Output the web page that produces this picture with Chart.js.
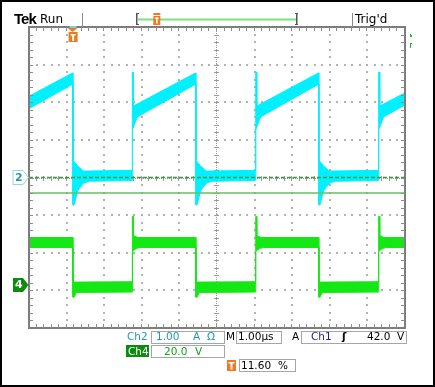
<!DOCTYPE html>
<html><head><meta charset="utf-8">
<script src="https://cdn.jsdelivr.net/npm/chart.js@4.4.0/dist/chart.umd.min.js"></script>
<style>
html,body{margin:0;padding:0;background:#fff;}
#wrap{position:relative;width:435px;height:387px;overflow:hidden;background:#fff;}
#c{position:absolute;left:0;top:0;}
.t{position:absolute;white-space:pre;line-height:1;font-family:"DejaVu Sans",sans-serif;font-size:10.5px;color:#000;}
.top{font-size:12px;}
</style></head><body>
<div id="wrap"><canvas id="c" width="435" height="387"></canvas>
<span class="t" style="left:14px;top:11.3px;font-family:'Liberation Sans',sans-serif;font-weight:bold;font-size:15px;letter-spacing:-1px;">Tek</span>
<span class="t top" style="left:40px;top:13px;">Run</span>
<span class="t top" style="left:355px;top:13px;">Trig'd</span>

<span class="t" style="left:127px;top:331.1px;color:#1f9ea6;">Ch2</span>
<span class="t" style="left:156px;top:331.1px;color:#1f9ea6;">1.00</span>
<span class="t" style="left:193px;top:331.1px;color:#1f9ea6;">A</span>
<span class="t" style="left:207px;top:331.1px;color:#1f9ea6;">Ω</span>
<span class="t" style="left:226px;top:331.1px;">M</span>
<span class="t" style="left:238px;top:331.1px;">1.00µs</span>
<span class="t" style="left:292px;top:331.1px;">A</span>
<span class="t" style="left:311px;top:331.1px;color:#1a1aa8;">Ch1</span>
<span class="t" style="left:342px;top:331.1px;font-weight:bold;">ʃ</span>
<span class="t" style="left:367px;top:331.1px;">42.0</span>
<span class="t" style="left:397px;top:331.1px;">V</span>

<span class="t" style="left:128px;top:345.6px;color:#fff;">Ch4</span>
<span class="t" style="left:164px;top:345.6px;color:#18a018;">20.0</span>
<span class="t" style="left:195px;top:345.6px;color:#18a018;">V</span>

<span class="t" style="left:241px;top:359.6px;">11.60</span>
<span class="t" style="left:278px;top:359.6px;">%</span>
</div>
<script>
// ---- data ----
// time in µs from left edge of screen (1.00 µs/div), current in A (Ch2), voltage in V (Ch4)
const ch2Upper = [[0,2.16],[1.16,2.78],[1.17,0.46],[1.30,0.30],[1.45,0.17],[2.74,0.19],[2.75,2.80],[2.77,2.80],[2.78,1.90],[4.43,2.78],[4.44,0.46],[4.57,0.30],[4.72,0.17],[6.02,0.19],[6.03,2.80],[6.05,2.80],[6.06,1.90],[7.70,2.78],[7.71,0.46],[7.84,0.30],[7.99,0.17],[9.29,0.19],[9.30,2.80],[9.32,2.80],[9.33,1.90],[10,2.25]];
const ch2Lower = [[0,1.83],[1.16,2.48],[1.17,-0.73],[1.20,-0.73],[1.30,-0.34],[1.45,-0.15],[1.60,-0.10],[2.74,-0.08],[2.75,1.26],[2.88,1.61],[4.43,2.48],[4.44,-0.73],[4.47,-0.73],[4.57,-0.34],[4.72,-0.15],[4.87,-0.10],[6.02,-0.08],[6.03,1.26],[6.16,1.61],[7.70,2.48],[7.71,-0.73],[7.74,-0.73],[7.84,-0.34],[7.99,-0.15],[8.14,-0.10],[9.29,-0.08],[9.30,1.26],[9.43,1.61],[10,1.93]];
const ch4Upper = [[0,25.3],[1.16,25.3],[1.17,1.6],[2.74,1.8],[2.75,36.5],[2.77,36.5],[2.78,26.2],[2.90,25.3],[4.43,25.3],[4.44,1.6],[6.02,1.8],[6.03,36.5],[6.05,36.5],[6.06,26.2],[6.18,25.3],[7.70,25.3],[7.71,1.6],[9.29,1.8],[9.30,36.5],[9.32,36.5],[9.33,26.2],[9.45,25.3],[10,25.3]];
const ch4Lower = [[0,20.0],[1.16,20.0],[1.17,-6.4],[1.20,-6.4],[1.26,-3.9],[2.74,-3.7],[2.75,18.0],[2.85,19.4],[2.95,20.0],[4.43,20.0],[4.44,-6.4],[4.47,-6.4],[4.53,-3.9],[6.02,-3.7],[6.03,18.0],[6.13,19.4],[6.23,20.0],[7.70,20.0],[7.71,-6.4],[7.74,-6.4],[7.80,-3.9],[9.29,-3.7],[9.30,18.0],[9.40,19.4],[9.50,20.0],[10,20.0]];
// channel settings: [units per division, ground offset in divisions]
const ch2Setting = [1.0, 0.0];
const ch4Setting = [20.0, -2.86];
const levelLineDiv = [-0.41];
const triggerPercent = [11.60];
const timeRange = [0, 10];
const divRange = [-4, 4];

const CYAN = '#00f0ff', GREEN = '#14e814';
const toDiv = (v, s) => v / s[0] + s[1];
const pts = (arr, s) => arr.map(p => ({x: p[0], y: toDiv(p[1], s)}));
const hline = d => [{x: timeRange[0], y: d}, {x: timeRange[1], y: d}];

const scopePlugin = {
  id: 'scope',
  beforeDatasetsDraw(chart) {
    const ctx = chart.ctx, xs = chart.scales.x, ys = chart.scales.y;
    ctx.save();
    ctx.fillStyle = '#b2b2b2';
    for (let k = 1; k < 10; k++) {
      if (k === 5) continue;
      const px = Math.round(xs.getPixelForValue(k));
      for (let m = 1; m < 40; m++) {
        const py = Math.round(ys.getPixelForValue(-4 + m * 0.2));
        ctx.fillRect(px - 1, py - 1, 2, 2);
      }
    }
    for (let k = -3; k <= 3; k++) {
      if (k === 0) continue;
      const py = Math.round(ys.getPixelForValue(k));
      for (let m = 1; m < 50; m++) {
        const px = Math.round(xs.getPixelForValue(m * 0.2));
        ctx.fillRect(px - 1, py - 1, 2, 2);
      }
    }
    // center cross
    const cx = Math.round(xs.getPixelForValue(5)), cy = Math.round(ys.getPixelForValue(0));
    const a = chart.chartArea;
    ctx.fillStyle = '#9a9a9a';
    for (let y = a.top; y < a.bottom; y += 2) ctx.fillRect(cx - 1, y, 1, 1);
    for (let x = a.left; x < a.right; x += 2) ctx.fillRect(x, cy, 1, 1);
    for (let m = 1; m < 40; m++) {
      const py = Math.round(ys.getPixelForValue(-4 + m * 0.2));
      ctx.fillRect(cx - 3, py, 5, 1);
    }
    for (let m = 1; m < 50; m++) {
      const px = Math.round(xs.getPixelForValue(m * 0.2));
      ctx.fillRect(px - 1, cy - 2, 1, 5);
    }
    ctx.restore();
  },
  afterDatasetsDraw(chart) {
    const ctx = chart.ctx, xs = chart.scales.x, ys = chart.scales.y, a = chart.chartArea;
    ctx.save();
    // border with ticks
    ctx.strokeStyle = '#7c7c7c';
    ctx.lineWidth = 2;
    ctx.strokeRect(a.left, a.top, a.right - a.left, a.bottom - a.top);
    ctx.fillStyle = '#8c8c8c';
    for (let m = 1; m < 50; m++) {
      const px = Math.round(xs.getPixelForValue(m * 0.2));
      ctx.fillRect(px - 1, a.top, 1, 4);
      ctx.fillRect(px - 1, a.bottom - 4, 1, 4);
    }
    for (let m = 1; m < 40; m++) {
      const py = Math.round(ys.getPixelForValue(-4 + m * 0.2));
      ctx.fillRect(a.left, py, 4, 1);
      ctx.fillRect(a.right - 4, py, 4, 1);
    }
    // channel ground markers
    const g2 = ys.getPixelForValue(ch2Setting[1]);
    const g4 = ys.getPixelForValue(ch4Setting[1]);
    const marker = (y, fill, stroke) => {
      ctx.beginPath();
      ctx.moveTo(13, y - 7); ctx.lineTo(23, y - 7); ctx.lineTo(28.5, y); ctx.lineTo(23, y + 7); ctx.lineTo(13, y + 7); ctx.closePath();
      if (fill) { ctx.fillStyle = fill; ctx.fill(); }
      if (stroke) { ctx.strokeStyle = stroke; ctx.lineWidth = 1; ctx.stroke(); }
    };
    marker(g2, '#ffffff', '#8fd6d6');
    marker(g4, '#0c8c0c', null);
    ctx.font = 'bold 11px "DejaVu Sans"';
    ctx.textBaseline = 'middle';
    ctx.fillStyle = '#2a9898';
    ctx.fillText('2', 15, g2 + 0.5);
    ctx.fillStyle = '#ffffff';
    ctx.fillText('4', 15, g4 + 0.5);
    // trigger position marker on top
    const tx = xs.getPixelForValue(timeRange[0] + (timeRange[1] - timeRange[0]) * triggerPercent[0] / 100);
    ctx.fillStyle = '#7fd0d0';
    ctx.fillRect(tx - 3, a.top - 1, 7, 2);
    ctx.fillStyle = '#f07820';
    ctx.beginPath(); ctx.moveTo(tx - 5, a.top + 1); ctx.lineTo(tx + 5, a.top + 1); ctx.lineTo(tx, a.top + 5); ctx.closePath(); ctx.fill();
    ctx.fillRect(tx - 4, a.top + 5, 9, 10);
    ctx.fillStyle = '#fff';
    ctx.fillRect(tx - 2, a.top + 7, 5, 1.5);
    ctx.fillRect(tx - 0.5, a.top + 7, 2, 7);
    // small green marks top right
    ctx.fillStyle = '#30b030';
    ctx.fillRect(a.right + 5, 34, 1, 3); ctx.fillRect(a.right + 6, 35, 1, 2);
    ctx.fillRect(a.right + 5, 43, 1, 5); ctx.fillRect(a.right + 6, 43, 1, 1);
    ctx.restore();
  },
  afterDraw(chart) {
    const ctx = chart.ctx;
    ctx.save();
    // top separators
    ctx.fillStyle = '#8a8a8a';
    ctx.fillRect(82, 13, 1, 14);
    ctx.fillRect(352, 13, 1, 14);
    // record bar
    ctx.fillStyle = '#555';
    ctx.fillRect(136, 13, 1.5, 12); ctx.fillRect(136, 13, 3, 1); ctx.fillRect(136, 24, 3, 1);
    ctx.fillRect(296, 13, 1.5, 12); ctx.fillRect(295, 13, 3, 1); ctx.fillRect(295, 24, 3, 1);
    ctx.fillStyle = '#7ee07e';
    ctx.fillRect(138, 18.5, 158, 2);
    const rx = 138 + 158 * triggerPercent[0] / 100;
    ctx.fillStyle = '#f07820';
    ctx.fillRect(rx - 3, 13, 7, 2);
    ctx.fillRect(rx - 3, 16, 7, 9);
    ctx.fillStyle = '#fff';
    ctx.fillRect(rx - 1.5, 17.5, 4, 1.2);
    ctx.fillRect(rx - 0.2, 17.5, 1.5, 6);
    // bottom boxes
    ctx.strokeStyle = '#a6a6a6';
    ctx.lineWidth = 1;
    const box = (x1, y1, x2, y2) => ctx.strokeRect(x1 + 0.5, y1 + 0.5, x2 - x1, y2 - y1);
    box(151, 331, 224, 343);
    box(236, 331, 281, 343);
    box(301, 331, 406, 343);
    box(151, 345, 224, 357);
    box(239, 359, 295, 371);
    ctx.fillStyle = '#0b8c0b';
    ctx.fillRect(126, 345, 23, 12);
    ctx.fillStyle = '#f07820';
    ctx.fillRect(227, 360, 9, 11);
    ctx.fillStyle = '#fff';
    ctx.fillRect(228.5, 362, 6, 1.5);
    ctx.fillRect(230.5, 362, 2, 7.5);
    // outer frame
    ctx.strokeStyle = '#000';
    ctx.lineWidth = 2;
    ctx.strokeRect(1, 1, 433, 385);
    ctx.restore();
  }
};

new Chart(document.getElementById('c'), {
  type: 'line',
  data: {
    datasets: [
      {data: pts(ch2Upper, ch2Setting), borderColor: CYAN, backgroundColor: CYAN, fill: '+1', order: 2},
      {data: pts(ch2Lower, ch2Setting), borderColor: CYAN, backgroundColor: CYAN, fill: false, order: 2},
      {data: pts(ch4Upper, ch4Setting), borderColor: GREEN, backgroundColor: GREEN, fill: '+1', order: 3},
      {data: pts(ch4Lower, ch4Setting), borderColor: GREEN, backgroundColor: GREEN, fill: false, order: 3},
      {data: hline(ch2Setting[1]), borderColor: '#3c9a3c', borderDash: [4, 2], borderWidth: 1.5, fill: false, order: 0},
      {data: hline(levelLineDiv[0]), borderColor: '#62c262', borderWidth: 1.5, fill: false, order: 1}
    ]
  },
  options: {
    responsive: false,
    animation: false,
    devicePixelRatio: 1,
    layout: {padding: {left: 29, top: 27, right: 30, bottom: 59}},
    elements: {line: {tension: 0, borderWidth: 1}, point: {radius: 0, hoverRadius: 0}},
    scales: {
      x: {type: 'linear', min: timeRange[0], max: timeRange[1], display: false},
      y: {type: 'linear', min: divRange[0], max: divRange[1], display: false}
    },
    plugins: {legend: {display: false}, tooltip: {enabled: false}},
    events: []
  },
  plugins: [scopePlugin]
});
</script>
</body></html>
